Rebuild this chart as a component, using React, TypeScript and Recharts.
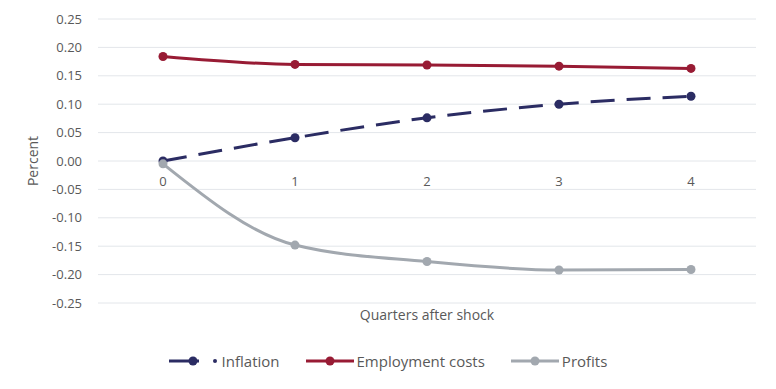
import React from "react";
import {
  LineChart,
  Line,
  XAxis,
  YAxis,
  CartesianGrid,
  Legend,
} from "recharts";

const quarters = ["0", "1", "2", "3", "4"];
const inflation = [0.0, 0.041, 0.076, 0.1, 0.114];
const employmentCosts = [0.184, 0.17, 0.169, 0.167, 0.163];
const profits = [-0.005, -0.148, -0.177, -0.192, -0.191];
const yTicks = [0.25, 0.2, 0.15, 0.1, 0.05, 0, -0.05, -0.1, -0.15, -0.2, -0.25];

const data = quarters.map((q, i) => ({
  quarter: q,
  inflation: inflation[i],
  employment: employmentCosts[i],
  profits: profits[i],
}));

const NAVY = "#2b2c63";
const RED = "#981b34";
const GREY = "#a2a8af";
const TEXT = "#595959";
const FONT = "'Open Sans', sans-serif";

const MARGIN = { top: 19, right: 20, bottom: 62, left: 0 };
const WIDTH = 776;
const HEIGHT = 389;
const X_AXIS_HEIGHT = 24;
const Y_MIN = -0.25;
const Y_MAX = 0.25;
const PLOT_H = HEIGHT - MARGIN.top - MARGIN.bottom - X_AXIS_HEIGHT;

// category labels sit just under the zero line, like an Excel axis crossing at 0
function ZeroTick(props: any) {
  const { x, payload } = props;
  const zeroY = MARGIN.top + (PLOT_H * (Y_MAX - 0)) / (Y_MAX - Y_MIN);
  return (
    <text
      x={x}
      y={zeroY + 25}
      textAnchor="middle"
      fill={TEXT}
      fontSize={13}
      fontFamily={FONT}
    >
      {payload.value}
    </text>
  );
}

const legendItems = [
  { name: "Inflation", color: NAVY, dashed: true },
  { name: "Employment costs", color: RED, dashed: false },
  { name: "Profits", color: GREY, dashed: false },
];

function LegendContent() {
  return (
    <div
      style={{
        display: "flex",
        justifyContent: "center",
        alignItems: "center",
        gap: 26,
        fontFamily: FONT,
        fontSize: 15,
        color: TEXT,
      }}
    >
      {legendItems.map((it) => (
        <div key={it.name} style={{ display: "flex", alignItems: "center" }}>
          {it.dashed ? (
            <svg width={50} height={12}>
              <line x1={0} y1={6} x2={30} y2={6} stroke={it.color} strokeWidth={3} />
              <circle cx={24} cy={6} r={4.5} fill={it.color} />
              <circle cx={46} cy={6} r={2} fill={it.color} />
            </svg>
          ) : (
            <svg width={48} height={12}>
              <line x1={0} y1={6} x2={48} y2={6} stroke={it.color} strokeWidth={3} />
              <circle cx={24} cy={6} r={4.5} fill={it.color} />
            </svg>
          )}
          <span style={{ marginLeft: 3 }}>{it.name}</span>
        </div>
      ))}
    </div>
  );
}

export default function App() {
  return (
    <div style={{ marginLeft: -8, marginTop: -8, width: WIDTH, height: HEIGHT }}>
      <LineChart width={WIDTH} height={HEIGHT} data={data} margin={MARGIN}>
        <CartesianGrid vertical={false} stroke="#e3e6ea" strokeWidth={1} />
        <XAxis
          dataKey="quarter"
          height={X_AXIS_HEIGHT}
          padding={{ left: 65, right: 65 }}
          axisLine={false}
          tickLine={false}
          tick={<ZeroTick />}
          label={{
            value: "Quarters after shock",
            position: "center",
            fill: TEXT,
            fontSize: 14,
            fontFamily: FONT,
          }}
        />
        <YAxis
          width={98}
          domain={[Y_MIN, Y_MAX]}
          ticks={yTicks}
          axisLine={false}
          tickLine={false}
          tickSize={0}
          tickMargin={16}
          tickFormatter={(v: number) => v.toFixed(2)}
          tick={{ fill: TEXT, fontSize: 13, fontFamily: FONT }}
          label={{
            value: "Percent",
            angle: -90,
            position: "center",
            dx: -16,
            fill: TEXT,
            fontSize: 14,
            fontFamily: FONT,
          }}
        />
        <Legend
          verticalAlign="middle"
          content={<LegendContent />}
          wrapperStyle={{ top: 351, left: 0, width: WIDTH }}
        />
        <Line
          type="monotone"
          dataKey="inflation"
          name="Inflation"
          stroke={NAVY}
          strokeWidth={3}
          strokeDasharray="24 12"
          dot={{ r: 4.5, fill: NAVY, stroke: NAVY, strokeWidth: 0, strokeDasharray: "" }}
          isAnimationActive={false}
        />
        <Line
          type="monotone"
          dataKey="employment"
          name="Employment costs"
          stroke={RED}
          strokeWidth={3}
          dot={{ r: 4.5, fill: RED, stroke: RED, strokeWidth: 0 }}
          isAnimationActive={false}
        />
        <Line
          type="monotone"
          dataKey="profits"
          name="Profits"
          stroke={GREY}
          strokeWidth={3}
          dot={{ r: 4.5, fill: GREY, stroke: GREY, strokeWidth: 0 }}
          isAnimationActive={false}
        />
      </LineChart>
    </div>
  );
}
